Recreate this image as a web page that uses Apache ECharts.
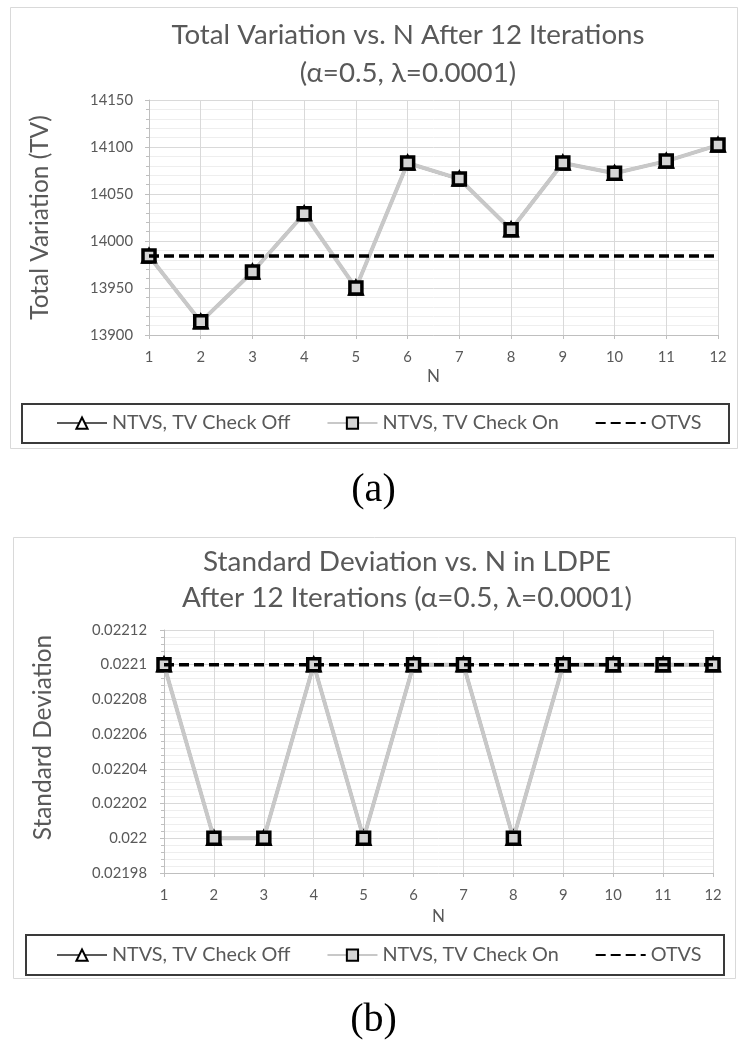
<!DOCTYPE html>
<html>
<head>
<meta charset="utf-8">
<script src="https://cdn.jsdelivr.net/npm/echarts@6/dist/echarts.min.js"></script>
<style>
  html, body { margin: 0; padding: 0; background: #fff; }
  #main { width: 747px; height: 1050px; }
</style>
</head>
<body>
<div id="main"></div>
<script>
// x categories (N)
var nCats = ['1', '2', '3', '4', '5', '6', '7', '8', '9', '10', '11', '12'];

// (a) total variation
var tvCheckOff = [13984, 13914, 13967, 14029, 13950, 14083, 14066, 14012, 14083, 14072, 14085, 14102];
var tvCheckOn = [13984, 13914, 13967, 14029, 13950, 14083, 14066, 14012, 14083, 14072, 14085, 14102];
var tvOtvs = [13984, 13984, 13984, 13984, 13984, 13984, 13984, 13984, 13984, 13984, 13984, 13984];
var tvTicks = [13900, 13950, 14000, 14050, 14100, 14150];

// (b) standard deviation
var sdCheckOff = [0.0221, 0.022, 0.022, 0.0221, 0.022, 0.0221, 0.0221, 0.022, 0.0221, 0.0221, 0.0221, 0.0221];
var sdCheckOn = [0.0221, 0.022, 0.022, 0.0221, 0.022, 0.0221, 0.0221, 0.022, 0.0221, 0.0221, 0.0221, 0.0221];
var sdOtvs = [0.0221, 0.0221, 0.0221, 0.0221, 0.0221, 0.0221, 0.0221, 0.0221, 0.0221, 0.0221, 0.0221, 0.0221];
var sdTicks = [0.02198, 0.022, 0.02202, 0.02204, 0.02206, 0.02208, 0.0221, 0.02212];

var seriesNames = ['NTVS, TV Check Off', 'NTVS, TV Check On', 'OTVS'];
var titleA = ['Total Variation vs. N After 12 Iterations', '(α=0.5, λ=0.0001)'];
var titleB = ['Standard Deviation vs. N in LDPE', 'After 12 Iterations (α=0.5, λ=0.0001)'];

var FONT = 'Lato, "Noto Sans", sans-serif';
var GREY_TXT = '#595959';

// pick a font size so that a string is about as wide as in the picture
var measureCtx = document.createElement('canvas').getContext('2d');
function fit(text, width) {
  measureCtx.font = '100px ' + FONT;
  return Math.round(1000 * width / measureCtx.measureText(text).width) / 10;
}

var titleSizeA = fit(titleA[0], 473);
var titleSizeB = fit(titleB[1], 450);
var yNameSize = (fit('Total Variation (TV)', 205) + fit('Standard Deviation', 205)) / 2;
var legendSize = fit(seriesNames[0], 179);
var tickSize = fit('14150', 43);
var nSize = fit('N', 13);

var chart = echarts.init(document.getElementById('main'), null, { renderer: 'canvas' });

function xAxisFor(gi, nameDist) {
  return {
    type: 'category',
    gridIndex: gi,
    data: nCats,
    boundaryGap: false,
    name: 'N',
    nameLocation: 'middle',
    nameGap: nameDist - nSize / 2,
    nameTextStyle: { color: GREY_TXT, fontSize: nSize, fontFamily: FONT },
    axisLine: { lineStyle: { color: '#bfbfbf', width: 1 } },
    axisTick: { show: true, length: 4, lineStyle: { color: '#bfbfbf' } },
    axisLabel: { color: GREY_TXT, fontSize: tickSize, fontFamily: FONT, margin: 22 - tickSize / 2 },
    splitLine: { show: true, lineStyle: { color: '#d9d9d9', width: 1 } }
  };
}

function yAxisFor(gi, ticks, title, nameDist, nameShift, labelGap, fmt) {
  return {
    type: 'value',
    gridIndex: gi,
    min: ticks[0],
    max: ticks[ticks.length - 1],
    interval: ticks[1] - ticks[0],
    name: title,
    nameLocation: 'middle',
    nameGap: nameDist - yNameSize / 2,
    nameTextStyle: { color: GREY_TXT, fontSize: yNameSize, fontFamily: FONT, padding: [0, 0, 0, nameShift] },
    axisLine: { show: true, lineStyle: { color: '#bfbfbf', width: 1 } },
    axisTick: { show: true, length: 4, lineStyle: { color: '#bfbfbf' } },
    minorTick: { show: true, splitNumber: 5, length: 3, lineStyle: { color: '#bfbfbf' } },
    axisLabel: { color: GREY_TXT, fontSize: tickSize, fontFamily: FONT, margin: labelGap, formatter: fmt },
    splitLine: { show: true, lineStyle: { color: '#d9d9d9', width: 1 } },
    minorSplitLine: { show: true, lineStyle: { color: '#eeeeee', width: 1 } }
  };
}

function seriesFor(gi, off, on, otvs) {
  return [{
    name: seriesNames[0],
    type: 'line',
    xAxisIndex: gi, yAxisIndex: gi,
    data: off,
    symbol: 'triangle',
    symbolSize: 12,
    lineStyle: { color: '#595959', width: 3 },
    itemStyle: { color: '#ffffff', borderColor: '#000000', borderWidth: 3.5 },
    z: 2
  }, {
    name: seriesNames[1],
    type: 'line',
    xAxisIndex: gi, yAxisIndex: gi,
    data: on,
    symbol: 'rect',
    symbolSize: 12,
    lineStyle: { color: '#c8c8c8', width: 4 },
    itemStyle: { color: '#d4d4d4', borderColor: '#000000', borderWidth: 3.5 },
    z: 3
  }, {
    name: seriesNames[2],
    type: 'line',
    xAxisIndex: gi, yAxisIndex: gi,
    data: otvs,
    symbol: 'none',
    lineStyle: { color: '#000000', width: 3.5, type: [10, 5] },
    itemStyle: { color: 'rgba(0,0,0,0)', borderWidth: 0 },
    z: 4
  }];
}

function legendFor(centerY) {
  return {
    top: centerY - legendSize / 2,
    left: 56,
    padding: 0,
    itemGap: 36,
    itemWidth: 50,
    itemHeight: 14,
    textStyle: { color: GREY_TXT, fontSize: legendSize, fontFamily: FONT },
    data: seriesNames,
    selectedMode: false
  };
}

var option = {
  backgroundColor: '#fff',
  animation: false,
  title: [{
    text: titleA.join('\n'),
    left: 408, top: 35 - 19, padding: 0, textAlign: 'center',
    textStyle: { color: GREY_TXT, fontSize: titleSizeA, fontWeight: 'normal', fontFamily: FONT, lineHeight: 38 }
  }, {
    text: titleB.join('\n'),
    left: 407, top: 562 - 18, padding: 0, textAlign: 'center',
    textStyle: { color: GREY_TXT, fontSize: titleSizeB, fontWeight: 'normal', fontFamily: FONT, lineHeight: 36 }
  }],
  legend: [legendFor(423), legendFor(955)],
  grid: [
    { left: 149, top: 100, width: 569, height: 235 },
    { left: 164, top: 630, width: 549, height: 243 }
  ],
  xAxis: [xAxisFor(0, 42), xAxisFor(1, 44)],
  yAxis: [
    yAxisFor(0, tvTicks, 'Total Variation (TV)', 149 - 40, 0, 16, function (v) { return String(Math.round(v)); }),
    yAxisFor(1, sdTicks, 'Standard Deviation', 164 - 43, 28, 17, function (v) { return String(parseFloat(v.toFixed(5))); })
  ],
  series: seriesFor(0, tvCheckOff, tvCheckOn, tvOtvs).concat(seriesFor(1, sdCheckOff, sdCheckOn, sdOtvs)),
  graphic: [
    { type: 'rect', shape: { x: 10.5, y: 7.5, width: 727, height: 441 }, style: { fill: null, stroke: '#d9d9d9', lineWidth: 1 }, silent: true, z: -1 },
    { type: 'rect', shape: { x: 22, y: 404, width: 707, height: 39 }, style: { fill: null, stroke: '#3a3a3a', lineWidth: 2 }, silent: true },
    { type: 'text', left: 'center', top: 470, style: { text: '(a)', fill: '#000', font: '40px "Liberation Serif", serif' } },
    { type: 'rect', shape: { x: 13.5, y: 537.5, width: 722, height: 441 }, style: { fill: null, stroke: '#d9d9d9', lineWidth: 1 }, silent: true, z: -1 },
    { type: 'rect', shape: { x: 26, y: 935, width: 698, height: 40 }, style: { fill: null, stroke: '#3a3a3a', lineWidth: 2 }, silent: true },
    { type: 'text', left: 'center', top: 1000, style: { text: '(b)', fill: '#000', font: '40px "Liberation Serif", serif' } }
  ]
};

chart.setOption(option);
</script>
</body>
</html>
